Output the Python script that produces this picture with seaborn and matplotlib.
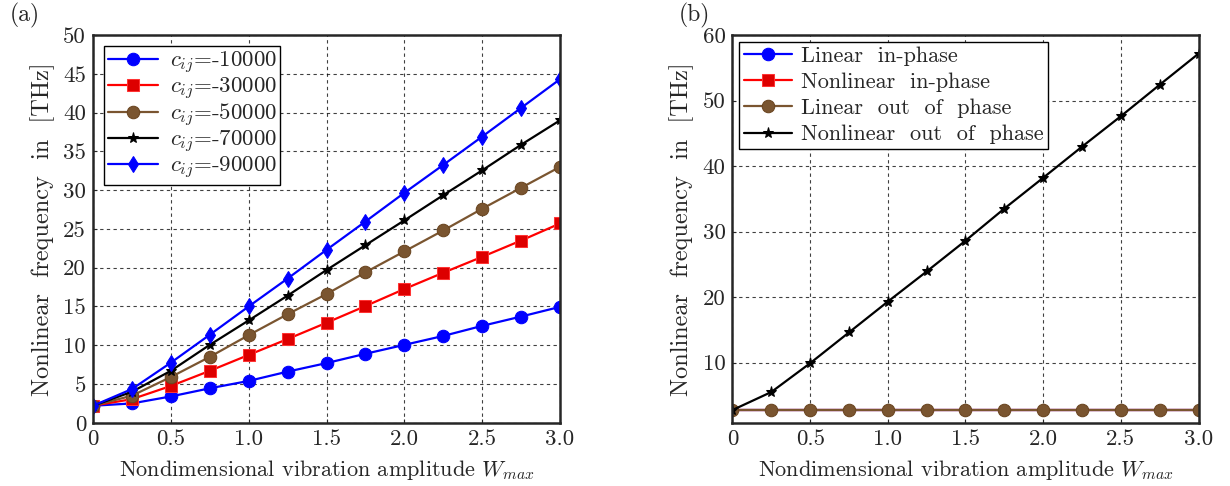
import numpy as np
import pandas as pd
import seaborn as sns
import matplotlib
matplotlib.use("Agg")
import matplotlib.pyplot as plt

# data
w_max = [0, 0.25, 0.5, 0.75, 1.0, 1.25, 1.5, 1.75, 2.0, 2.25, 2.5, 2.75, 3.0]

# panel (a): nonlinear frequency for several c_ij
f_10000 = [2.2, 2.5, 3.4, 4.45, 5.4, 6.6, 7.7, 8.9, 10.05, 11.2, 12.5, 13.7, 14.95]
f_30000 = [2.2, 3.05, 4.75, 6.7, 8.75, 10.8, 12.9, 15.05, 17.25, 19.35, 21.4, 23.5, 25.7]
f_50000 = [2.2, 3.5, 5.9, 8.5, 11.3, 14.0, 16.6, 19.4, 22.1, 24.8, 27.6, 30.3, 33.0]
f_70000 = [2.2, 4.0, 6.7, 10.05, 13.2, 16.4, 19.7, 22.9, 26.1, 29.35, 32.55, 35.85, 39.0]
f_90000 = [2.2, 4.35, 7.75, 11.35, 15.0, 18.6, 22.3, 25.95, 29.65, 33.25, 36.9, 40.6, 44.3]
labels_a = ['-10000', '-30000', '-50000', '-70000', '-90000']

# panel (b)
lin_in = [2.75] * 13
nonlin_in = [2.75] * 13
lin_out = [2.75] * 13
nonlin_out = [2.75, 5.5, 9.9, 14.6, 19.3, 23.9, 28.6, 33.5, 38.2, 42.95, 47.6, 52.4, 57.15]
labels_b = ['Linear  in-phase', 'Nonlinear  in-phase', 'Linear  out  of  phase', 'Nonlinear  out  of  phase']

sns.set_style("ticks")
plt.rcParams['font.family'] = ['cmr10', 'DejaVu Serif']
plt.rcParams['mathtext.fontset'] = 'cm'
plt.rcParams['axes.formatter.use_mathtext'] = True
plt.rcParams['axes.unicode_minus'] = False

brown = '#7a5530'
styles = [
    dict(color='#0000ff', marker='o', markersize=9, mfc='#0000ff', mec='#0000ff'),
    dict(color='#ff0000', marker='s', markersize=9, mfc='#dd0000', mec='#ff3333'),
    dict(color=brown, marker='o', markersize=9, mfc=brown, mec='#6a4520'),
    dict(color='black', marker='*', markersize=8, mfc='black', mec='black'),
    dict(color='#0000ff', marker='d', markersize=8, mfc='#0000ff', mec='#0000ff'),
]

fig = plt.figure(figsize=(12.3, 4.86), dpi=100)
ax1 = fig.add_axes([0.0756, 0.130, 0.3797, 0.798])
ax2 = fig.add_axes([0.5955, 0.130, 0.3789, 0.798])

series_a = [f_10000, f_30000, f_50000, f_70000, f_90000]
for ys, lab, st in zip(series_a, labels_a, styles):
    sns.lineplot(x=w_max, y=ys, ax=ax1, label=r'$c_{ij}$=' + lab, lw=1.6, **st)

# in panel (b) the in-phase curves sit under the brown circles
series_b = [lin_in, nonlin_in, lin_out, nonlin_out]
for i, (ys, lab, st) in enumerate(zip(series_b, labels_b, styles[:4])):
    st = dict(st)
    if i < 2:
        st['markersize'] = 6
    sns.lineplot(x=w_max, y=ys, ax=ax2, label=lab, lw=1.6, **st)

xt = [0, 0.5, 1.0, 1.5, 2.0, 2.5, 3.0]
xtl = ['0', '0.5', '1.0', '1.5', '2.0', '2.5', '3.0']

for ax in (ax1, ax2):
    ax.set_xlim(0, 3.0)
    ax.set_xticks(xt)
    ax.set_xticklabels(xtl)
    ax.grid(True, color='black', linestyle=(0, (3, 3)), lw=0.8, alpha=0.75)
    ax.tick_params(direction='in', labelsize=16.5, length=3, pad=5)
    for sp in ax.spines.values():
        sp.set_linewidth(1.8)
        sp.set_visible(True)
    ax.set_xlabel(r'Nondimensional vibration amplitude $W_{max}$', fontsize=16, labelpad=6)
    ax.set_ylabel('Nonlinear  frequency  in  [THz]', fontsize=17.5, labelpad=6)

ax1.set_ylim(0, 50)
ax1.set_yticks(range(0, 51, 5))
ax1.set_yticklabels([str(v) for v in range(0, 51, 5)])

ax2.set_ylim(0.8, 60)
ax2.set_yticks(range(10, 61, 10))
ax2.set_yticklabels([str(v) for v in range(10, 61, 10)])

for ax in (ax1, ax2):
    ax.set_axisbelow(True)

leg1 = ax1.legend(loc='upper left', fontsize=16.5, frameon=True, fancybox=False,
                  edgecolor='black', framealpha=1, handlelength=2.2,
                  borderpad=0.15, labelspacing=0.0, handletextpad=0.5,
                  borderaxespad=0.5)
leg1.get_frame().set_linewidth(1.0)
leg2 = ax2.legend(loc='upper left', fontsize=16, frameon=True, fancybox=False,
                  edgecolor='black', framealpha=1, handlelength=2.2,
                  borderpad=0.2, labelspacing=0.3, handletextpad=0.4,
                  borderaxespad=0.3)
leg2.get_frame().set_linewidth(1.0)
for h in leg2.legend_handles:
    h.set_markersize(9 if h.get_marker() != '*' else 8)

fig.text(0.008, 0.995, '(a)', fontsize=17, va='top')
fig.text(0.552, 0.995, '(b)', fontsize=17, va='top')

fig.savefig('out.png', dpi=100)
